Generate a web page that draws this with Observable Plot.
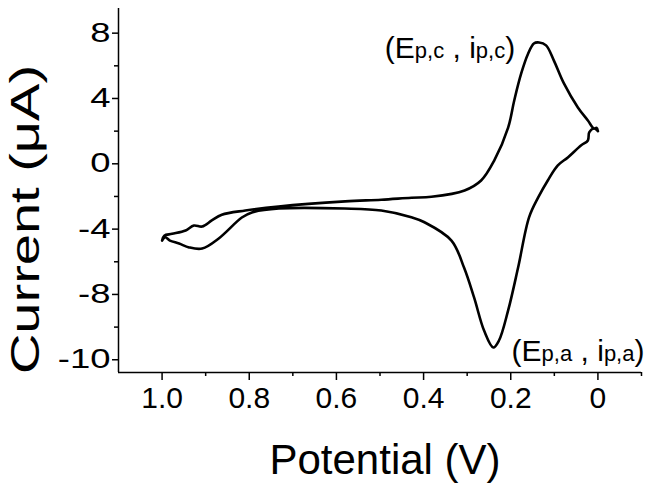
<!DOCTYPE html>
<html><head><meta charset="utf-8">
<script src="https://cdn.jsdelivr.net/npm/d3@7"></script>
<script src="https://cdn.jsdelivr.net/npm/@observablehq/plot@0.6"></script>
<style>body{margin:0;background:#fff} svg{display:block}</style>
</head><body><div id="chart"></div>
<script>
// Forward sweep 0 V -> 1.0 V (anodic peak)
const forwardPotential = [0.000, 0.009, 0.020, 0.023, 0.039, 0.069, 0.092, 0.115, 0.137, 0.158, 0.183, 0.206, 0.227, 0.240, 0.261, 0.284, 0.307, 0.336, 0.398, 0.428, 0.497, 0.581, 0.732, 0.794, 0.817, 0.870, 0.908, 0.938, 0.961, 0.982, 0.993, 1.000];
const forwardCurrent   = [2.00, 2.16, 1.92, 1.43, 1.12, 0.39, -0.10, -1.02, -2.06, -3.28, -6.34, -8.98, -10.82, -11.25, -10.23, -8.20, -6.37, -4.70, -3.58, -3.27, -2.86, -2.74, -2.74, -2.98, -3.29, -4.57, -5.19, -5.12, -4.88, -4.70, -4.50, -4.70];
// Reverse sweep 1.0 V -> 0 V (cathodic peak)
const reversePotential = [1.000, 0.995, 0.977, 0.946, 0.927, 0.908, 0.886, 0.863, 0.809, 0.733, 0.580, 0.497, 0.428, 0.382, 0.306, 0.268, 0.238, 0.206, 0.192, 0.176, 0.160, 0.147, 0.135, 0.119, 0.101, 0.078, 0.046, 0.023, 0.009, 0.003, 0.000];
const reverseCurrent   = [-4.70, -4.40, -4.29, -4.08, -3.78, -3.84, -3.47, -3.12, -2.86, -2.61, -2.30, -2.20, -2.08, -2.02, -1.63, -1.02, 0.20, 2.22, 3.88, 5.53, 6.75, 7.37, 7.43, 7.25, 6.32, 4.92, 3.45, 2.65, 2.16, 2.20, 2.00];

const xMajorTicks = [1.0, 0.8, 0.6, 0.4, 0.2, 0];
const xTickLabels = ["1.0", "0.8", "0.6", "0.4", "0.2", "0"];
const xMinorTicks = [0.9, 0.7, 0.5, 0.3, 0.1, -0.1];
const yMajorTicks = [8, 4, 0, -4, -8, -12];
const yTickLabels = ["8", "4", "0", "-4", "-8", "-10"];
const yMinorTicks = [6, 2, -2, -6, -10];
const xDomain = [1.1, -0.1];
const yDomain = [-12.78, 9.51];
const annotations = [
  {peak: "c", v: 0.489, i: 6.5},
  {peak: "a", v: 0.198, i: -12.05}
];
const xTitle = "Potential (V)";
const yTitle = "Current (μA)";

const curve = [
  ...forwardPotential.map((v, k) => ({v, i: forwardCurrent[k]})),
  ...reversePotential.map((v, k) => ({v, i: reverseCurrent[k]}))
];

const plot = Plot.plot({
  width: 651,
  height: 490,
  marginLeft: 118,
  marginRight: 10,
  marginTop: 8,
  marginBottom: 118,
  style: {fontFamily: "'Liberation Sans', Arial, sans-serif", color: "#000", background: "#fff", overflow: "visible"},
  x: {domain: xDomain},
  y: {domain: yDomain},
  marks: [
    Plot.ruleX([xDomain[0]], {stroke: "#000", strokeWidth: 1.5}),
    Plot.ruleY([yDomain[0]], {stroke: "#000", strokeWidth: 1.5}),
    Plot.axisX(xMajorTicks, {tickSize: 8, tickPadding: 6, strokeWidth: 1.5, fontSize: 30, tickFormat: d => xTickLabels[xMajorTicks.indexOf(d)], label: null}),
    Plot.axisX(xMinorTicks, {tickSize: 4, strokeWidth: 1.5, tickFormat: () => "", label: null}),
    Plot.axisY(yMajorTicks, {tickSize: 6, tickPadding: 2, strokeWidth: 1.5, fontSize: 27, tickFormat: d => yTickLabels[yMajorTicks.indexOf(d)], label: null}),
    Plot.axisY(yMinorTicks, {tickSize: 4, strokeWidth: 1.5, tickFormat: () => "", label: null}),
    Plot.line(curve, {x: "v", y: "i", stroke: "#000", strokeWidth: 2.6, strokeLinejoin: "round", strokeLinecap: "round", curve: "catmull-rom"}),
    Plot.text(annotations, {x: "v", y: "i", text: d => "(E" + d.peak, textAnchor: "start", lineAnchor: "bottom", fontSize: 30}),
    Plot.text([xTitle], {frameAnchor: "bottom", text: d => d, textAnchor: "middle", dy: 101, dx: 5, lineAnchor: "bottom", fontSize: 42}),
    Plot.text([yTitle], {frameAnchor: "left", text: d => d, textAnchor: "middle", rotate: -90, dx: -80, dy: 29, lineAnchor: "bottom", fontSize: 40})
  ]
});
document.getElementById("chart").append(plot);

const svg = d3.select(plot);
// stretch y tick labels horizontally like the reference
svg.selectAll('g[aria-label="y-axis tick label"] text').each(function() {
  const t = this.getAttribute("transform") || "";
  this.setAttribute("transform", t + " scale(1.35,1)");
});
let annIndex = 0;
svg.selectAll("text").each(function() {
  const content = this.textContent;
  if (content === yTitle) {
    // stretch the y title along its length
    const t = this.getAttribute("transform") || "";
    this.setAttribute("transform", t + " scale(1.4,1)");
  } else if (content.startsWith("(E") && annIndex < annotations.length) {
    // rich text for the peak annotations: (Ep,x , ip,x)
    const peak = annotations[annIndex++].peak;
    const parts = [["(E", 30], ["p," + peak, 22], [" , i", 30], ["p," + peak, 22], [")", 30]];
    const el = d3.select(this);
    el.text(null);
    for (const [s, fs] of parts) el.append("tspan").attr("font-size", fs).text(s);
  }
});
</script>
</body></html>
